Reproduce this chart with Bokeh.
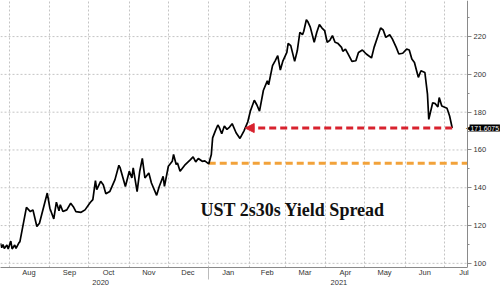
import pandas as pd
from bokeh.plotting import figure
from bokeh.models import (Range1d, LinearAxis, FixedTicker, Grid, Label, Arrow,
                          NormalHead, ColumnDataSource)
from bokeh.embed import file_html
from bokeh.resources import INLINE

# ---------------- data ----------------
dates = [
    "2020-07-25", "2020-07-26", "2020-07-27", "2020-07-28", "2020-07-30", "2020-07-31",
    "2020-08-02", "2020-08-03", "2020-08-05", "2020-08-06", "2020-08-08", "2020-08-09",
    "2020-08-14", "2020-08-17", "2020-08-19", "2020-08-22", "2020-08-24", "2020-08-30",
    "2020-09-01", "2020-09-04", "2020-09-06", "2020-09-08", "2020-09-09", "2020-09-11",
    "2020-09-14", "2020-09-17", "2020-09-19", "2020-09-21", "2020-09-25", "2020-09-28",
    "2020-10-02", "2020-10-04", "2020-10-06", "2020-10-07", "2020-10-10", "2020-10-12",
    "2020-10-14", "2020-10-17", "2020-10-21", "2020-10-24", "2020-10-25", "2020-10-29",
    "2020-11-01", "2020-11-03", "2020-11-04", "2020-11-07", "2020-11-09", "2020-11-11",
    "2020-11-13", "2020-11-16", "2020-11-18", "2020-11-22", "2020-11-24", "2020-11-27",
    "2020-11-28", "2020-12-01", "2020-12-04", "2020-12-05", "2020-12-07", "2020-12-08",
    "2020-12-10", "2020-12-14", "2020-12-18", "2020-12-20", "2020-12-22", "2020-12-24",
    "2020-12-27", "2020-12-29", "2021-01-01", "2021-01-03", "2021-01-04", "2021-01-06",
    "2021-01-08", "2021-01-09", "2021-01-11", "2021-01-13", "2021-01-15", "2021-01-17",
    "2021-01-19", "2021-01-22", "2021-01-25", "2021-01-28", "2021-01-31", "2021-02-02",
    "2021-02-05", "2021-02-07", "2021-02-09", "2021-02-12", "2021-02-15", "2021-02-16",
    "2021-02-19", "2021-02-21", "2021-02-23", "2021-02-25", "2021-02-27", "2021-03-02",
    "2021-03-03", "2021-03-05", "2021-03-08", "2021-03-10", "2021-03-12", "2021-03-14",
    "2021-03-15", "2021-03-17", "2021-03-18", "2021-03-20", "2021-03-23", "2021-03-25",
    "2021-03-27", "2021-03-29", "2021-03-31", "2021-04-02", "2021-04-04", "2021-04-06",
    "2021-04-08", "2021-04-10", "2021-04-13", "2021-04-14", "2021-04-16", "2021-04-18",
    "2021-04-21", "2021-04-24", "2021-04-26", "2021-04-29", "2021-05-02", "2021-05-06",
    "2021-05-08", "2021-05-11", "2021-05-13", "2021-05-15", "2021-05-17", "2021-05-20",
    "2021-05-22", "2021-05-25", "2021-05-27", "2021-05-30", "2021-06-02", "2021-06-04",
    "2021-06-06", "2021-06-08", "2021-06-10", "2021-06-11", "2021-06-13", "2021-06-16",
    "2021-06-18", "2021-06-19", "2021-06-22", "2021-06-24", "2021-06-26", "2021-06-27",
    "2021-06-29", "2021-07-03", "2021-07-05", "2021-07-07",
]
spread = [
    110.6, 108.3, 110.0, 107.9, 109.7, 107.6,
    111.8, 107.6, 109.7, 107.9, 110.6, 111.5,
    129.6, 127.4, 128.3, 119.5, 121.2, 137.2,
    129.2, 123.5, 132.4, 127.8, 131.0, 127.4,
    128.3, 131.8, 130.0, 127.4, 127.0, 128.3,
    132.2, 133.7, 143.8, 139.0, 143.4, 141.6,
    136.8, 138.0, 144.3, 151.9, 150.5, 140.7,
    148.7, 145.2, 150.5, 138.0, 148.7, 155.5,
    145.2, 147.8, 142.5, 136.0, 140.7, 146.0,
    140.7, 151.4, 154.0, 157.6, 152.3, 153.1,
    148.7, 152.3, 154.9, 156.3, 153.7, 155.5,
    154.0, 154.2, 152.6, 157.6, 166.4, 170.0,
    173.2, 172.1, 168.6, 172.7, 170.9, 172.1,
    173.9, 169.1, 166.1, 170.0, 174.9, 180.6,
    186.3, 183.8, 180.6, 191.6, 196.6, 194.5,
    204.6, 207.2, 209.9, 202.3, 207.2, 211.6,
    216.4, 215.2, 206.9, 212.5, 222.3, 221.0,
    222.8, 228.9, 228.0, 225.0, 217.0, 222.3,
    226.4, 224.5, 223.2, 217.0, 218.0, 220.5,
    217.0, 216.5, 214.3, 212.2, 213.4, 210.8,
    206.9, 207.2, 211.6, 212.9, 210.8, 208.7,
    214.3, 220.5, 224.6, 223.5, 219.6, 221.0,
    218.8, 214.3, 210.8, 211.2, 213.4, 212.9,
    208.1, 206.3, 201.0, 198.4, 201.9, 201.0,
    189.5, 176.2, 185.0, 184.5, 182.8, 187.7,
    183.3, 182.1, 178.0, 171.6075,
]
last_value = 171.6075
last_label = "171.6075"
ref_level = 153.0          # orange dashed reference level
ref_start = "2021-01-01"
arrow_tip = "2021-01-29"   # red dashed arrow points back to here

month_starts = ["2020-08-01", "2020-09-01", "2020-10-01", "2020-11-01", "2020-12-01",
                "2021-01-01", "2021-02-01", "2021-03-01", "2021-04-01", "2021-05-01",
                "2021-06-01", "2021-07-01"]
month_mids = ["2020-08-16", "2020-09-16", "2020-10-16", "2020-11-16", "2020-12-16",
              "2021-01-16", "2021-02-15", "2021-03-16", "2021-04-16", "2021-05-16",
              "2021-06-16", "2021-07-16"]
month_labels = ["Aug", "Sep", "Oct", "Nov", "Dec", "Jan", "Feb", "Mar", "Apr", "May",
                "Jun", "Jul"]
year_centers = ["2020-10-10", "2021-04-11"]
year_labels = ["2020", "2021"]
year_break = "2021-01-01"
y_ticks = [100, 120, 140, 160, 180, 200, 220]
y_minor = [110, 130, 150, 170, 190, 210, 230]
y_grid = [100, 120, 140, 160, 180, 200, 220, 240]
title_text = "UST 2s30s Yield Spread"

x_start = "2020-07-25 02:00"
axis_at = "2021-07-18 19:00"   # where the value axis sits
x_end = "2021-08-13 02:00"


def ms(s):
    return pd.Timestamp(s).value / 1e6


X0, XA, X1 = ms(x_start), ms(axis_at), ms(x_end)

# ---------------- figure ----------------
p = figure(width=500, height=287, x_axis_type=None, y_axis_location="right",
           output_backend="svg", toolbar_location=None,
           x_range=Range1d(X0, X1),
           y_range=Range1d(97.8, 239.1),
           min_border_left=0, min_border_top=0, min_border_right=0, min_border_bottom=0)
p.outline_line_color = None
p.background_fill_color = "white"
p.border_fill_color = "white"

grid_color = "#c4c4c4"
axis_color = "#8a8a8a"
lab_color = "#333333"

# value axis, drawn at a fixed place inside the frame
ya = p.yaxis[0]
ya.fixed_location = XA
ya.ticker = FixedTicker(ticks=y_ticks, minor_ticks=y_minor)
ya.axis_line_color = axis_color
ya.major_tick_line_color = axis_color
ya.minor_tick_line_color = axis_color
ya.major_tick_out = 4
ya.major_tick_in = 0
ya.minor_tick_out = 2
ya.minor_tick_in = 0
ya.major_label_standoff = 2
ya.major_label_text_font = "Liberation Sans"
ya.major_label_text_font_size = "7.5px"
ya.major_label_text_color = lab_color
p.ygrid.visible = False

# horizontal grid lines stop at the value axis
p.segment(x0=[X0] * len(y_grid), x1=[XA] * len(y_grid), y0=y_grid, y1=y_grid,
          line_color=grid_color, line_dash="2 2", line_width=1)

xgrid = Grid(dimension=0, ticker=FixedTicker(ticks=[ms(d) for d in month_starts]),
             grid_line_color=grid_color, grid_line_dash="2 2")
p.add_layout(xgrid)

# month axis
mticks = [ms(d) for d in month_mids]
ax1 = LinearAxis(ticker=FixedTicker(ticks=mticks), bounds=(X0, XA),
                 major_label_overrides={t: l for t, l in zip(mticks, month_labels)},
                 major_tick_line_color=None, minor_tick_line_color=None,
                 major_tick_out=0, major_tick_in=0, minor_tick_out=0, minor_tick_in=0,
                 axis_line_color=axis_color, major_label_standoff=0,
                 major_label_text_font="Liberation Sans",
                 major_label_text_font_size="7.5px",
                 major_label_text_color=lab_color)
p.add_layout(ax1, "below")

# year axis
yticks = [ms(d) for d in year_centers]
ax2 = LinearAxis(ticker=FixedTicker(ticks=yticks, minor_ticks=[ms(year_break)]),
                 major_label_overrides={t: l for t, l in zip(yticks, year_labels)},
                 major_tick_line_color=None, axis_line_color=None,
                 major_tick_out=0, major_tick_in=0,
                 minor_tick_line_color="#bbbbbb", minor_tick_in=12, minor_tick_out=0,
                 major_label_standoff=0,
                 major_label_text_font="Liberation Sans",
                 major_label_text_font_size="7.5px",
                 major_label_text_color=lab_color)
p.add_layout(ax2, "below")

# orange reference line
p.segment(x0=[ms(ref_start)], y0=[ref_level], x1=[XA], y1=[ref_level],
          line_color="#f2a23a", line_width=3, line_dash="7 4")

# series
src = ColumnDataSource(dict(x=[ms(d) for d in dates], y=spread))
p.line("x", "y", source=src, line_color="black", line_width=1.7)

# red dashed arrow
p.add_layout(Arrow(x_start=ms(dates[-1]), y_start=last_value,
                   x_end=ms(arrow_tip), y_end=last_value,
                   line_color="#d8222e", line_width=3, line_dash="7 4",
                   end=NormalHead(size=9, fill_color="#d8222e", line_color="#d8222e")))

# last value tag
p.text(x=[XA], y=[last_value], text=["\u25c0"], x_offset=3, text_align="right",
       text_baseline="middle", text_font_size="6px", text_color="black")
p.add_layout(Label(x=XA, y=last_value, x_offset=2, text=last_label,
                   text_color="white", text_font="Liberation Sans",
                   text_font_size="6.8px", text_baseline="middle",
                   background_fill_color="black", padding=1))

# chart title
p.add_layout(Label(x=200, y=58, x_units="screen", y_units="screen", text=title_text,
                   text_font="Liberation Serif", text_font_style="bold",
                   text_font_size="18px", text_color="#111111",
                   text_baseline="middle"))

open("out.html", "w").write(file_html(p, INLINE))
